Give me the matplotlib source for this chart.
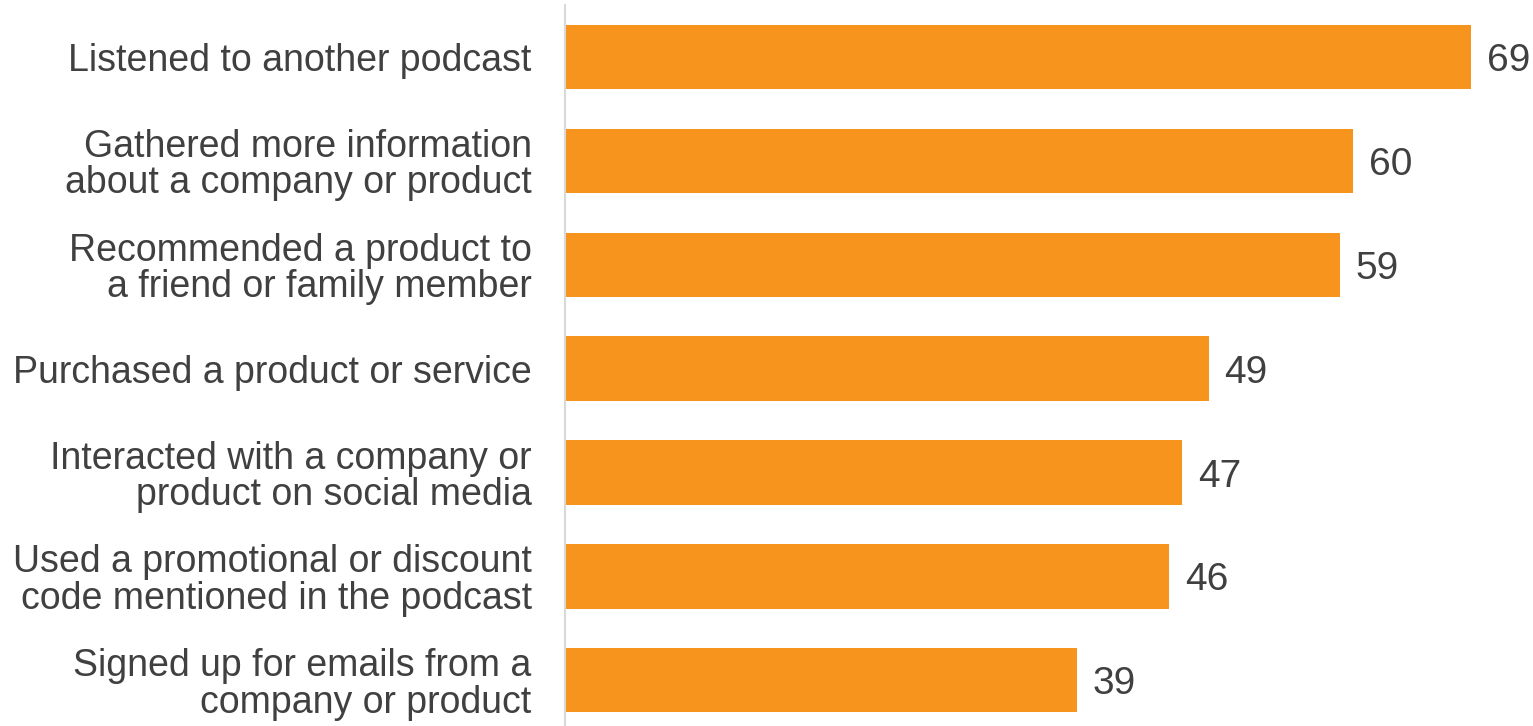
import matplotlib
matplotlib.use("Agg")
import matplotlib.pyplot as plt

categories = [
    "Listened to another podcast",
    "Gathered more information\nabout a company or product",
    "Recommended a product to\na friend or family member",
    "Purchased a product or service",
    "Interacted with a company or\nproduct on social media",
    "Used a promotional or discount\ncode mentioned in the podcast",
    "Signed up for emails from a\ncompany or product",
]
values = [69, 60, 59, 49, 47, 46, 39]

BAR_COLOR = "#F7941E"
TEXT_COLOR = "#404040"

plt.rcParams["font.family"] = ["Liberation Sans", "DejaVu Sans"]

fig = plt.figure(figsize=(15.33, 7.26), dpi=100)
ax = fig.add_axes([565 / 1533, 0, 1 - 565 / 1533, 721 / 726])

pos = list(range(len(categories)))
ax.barh(pos, values, height=0.62, color=BAR_COLOR)

for p, v in zip(pos, values):
    ax.text(v + 1.2, p, str(v), va="center_baseline", ha="left",
            fontsize=28, color=TEXT_COLOR)

ax.set_xlim(0, 73.7)
ax.set_ylim(6.44, -0.50)
ax.set_yticks(pos)
ax.set_yticklabels(categories, fontsize=27, color=TEXT_COLOR,
                   linespacing=1.02, ha="right")
ax.tick_params(axis="y", length=0, pad=24)
ax.set_xticks([])

for side in ("top", "right", "bottom"):
    ax.spines[side].set_visible(False)
ax.spines["left"].set_color("#D9D9D9")
ax.spines["left"].set_linewidth(1.5)

fig.savefig("out.png", dpi=100)
